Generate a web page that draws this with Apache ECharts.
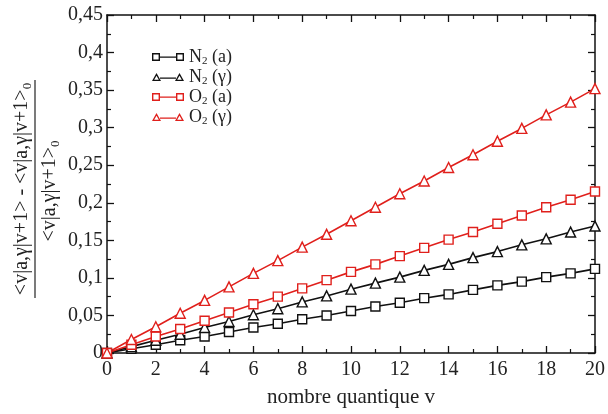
<!DOCTYPE html>
<html><head><meta charset="utf-8">
<script src="https://cdn.jsdelivr.net/npm/echarts@6/dist/echarts.min.js"></script>
<style>html,body{margin:0;padding:0;background:#fff}#c{width:608px;height:414px}</style>
</head><body><div id="c"></div>
<script>
const v = [0,1,2,3,4,5,6,7,8,9,10,11,12,13,14,15,16,17,18,19,20];
const n2a = [0,0.0056,0.011,0.017,0.022,0.028,0.034,0.039,0.045,0.050,0.056,0.062,0.067,0.073,0.078,0.084,0.090,0.095,0.101,0.106,0.112];
const n2g = [0,0.0085,0.017,0.025,0.034,0.042,0.051,0.059,0.068,0.076,0.085,0.093,0.101,0.110,0.118,0.127,0.135,0.144,0.152,0.161,0.169];
const o2a = [0,0.011,0.022,0.032,0.043,0.054,0.065,0.075,0.086,0.097,0.108,0.118,0.129,0.140,0.151,0.161,0.172,0.183,0.194,0.204,0.215];
const o2g = [0,0.018,0.035,0.053,0.070,0.088,0.106,0.123,0.141,0.158,0.176,0.194,0.212,0.229,0.247,0.264,0.282,0.299,0.317,0.334,0.352];
const seriesNames = ['N2 (a)','N2 (γ)','O2 (a)','O2 (γ)'];
const legendLabels = {'N2 (a)':'N{s|2} (a)','N2 (γ)':'N{s|2} (γ)','O2 (a)':'O{s|2} (a)','O2 (γ)':'O{s|2} (γ)'};

const FONT = 'Liberation Serif';
const BLACK = '#111';
const RED = '#e0201c';
const TXT = '#222';
// legend icons: two open markers joined by a line
const ICON_RECT = 'path://M0,0L8,0L8,8L0,8Z M1.4,1.4L1.4,6.6L6.6,6.6L6.6,1.4Z M8,3.4L24,3.4L24,4.7L8,4.7Z M24,0L32,0L32,8L24,8Z M25.4,1.4L25.4,6.6L30.6,6.6L30.6,1.4Z';
const ICON_TRI = 'path://M0,8L4.5,0L9,8Z M2.2,6.7L6.8,6.7L4.5,2.8Z M8,4.4L24,4.4L24,5.7L8,5.7Z M23,8L27.5,0L32,8Z M25.2,6.7L29.8,6.7L27.5,2.8Z';

const chart = echarts.init(document.getElementById('c'));
function mk(name, data, color, sym, size){
  return {name, type:'line', data: v.map((x,i)=>[x,data[i]]), symbol: sym, symbolSize: size,
    showAllSymbol:true, lineStyle:{color, width:1.6}, itemStyle:{color:'#fff', borderColor:color, borderWidth:1.4},
    emphasis:{disabled:true}};
}
const tickFmt = val => val === 0 ? '0' : String(+val.toFixed(3)).replace('.', ',');
const axisCommon = {
  axisLine:{show:true, onZero:false, lineStyle:{color:BLACK, width:1.5}},
  axisTick:{show:true, inside:true, length:7, lineStyle:{color:BLACK, width:1.3}},
  minorTick:{show:true, splitNumber:2, length:4, lineStyle:{color:BLACK, width:1.2}},
  splitLine:{show:false}
};
const legendColors = [BLACK, BLACK, RED, RED];
const legendIcons = [ICON_RECT, ICON_TRI, ICON_RECT, ICON_TRI];
chart.setOption({
  animation:false,
  grid:{left:107, right:6, top:15, bottom:61},
  xAxis:[
    Object.assign({type:'value', min:0, max:20, interval:2, position:'bottom',
      axisLabel:{fontFamily:FONT, fontSize:20, color:TXT, margin:7},
      name:'nombre quantique v', nameLocation:'middle', nameGap:34,
      nameTextStyle:{fontFamily:FONT, fontSize:21, color:TXT}}, axisCommon),
    Object.assign({type:'value', min:0, max:20, interval:2, position:'top', axisLabel:{show:false}}, axisCommon)
  ],
  yAxis:[
    Object.assign({type:'value', min:0, max:0.45, interval:0.05, position:'left',
      axisLabel:{fontFamily:FONT, fontSize:20, color:TXT, margin:4, formatter:tickFmt}}, axisCommon),
    Object.assign({type:'value', min:0, max:0.45, interval:0.05, position:'right', axisLabel:{show:false}}, axisCommon)
  ],
  legend:{orient:'vertical', left:147, top:42, itemGap:0, itemWidth:32, itemHeight:8,
    data: seriesNames.map((n,i)=>({name:n, icon:legendIcons[i], itemStyle:{color:legendColors[i], borderWidth:0}})),
    formatter: n => legendLabels[n],
    textStyle:{fontFamily:FONT, fontSize:18, lineHeight:20, color:TXT,
      rich:{s:{fontFamily:FONT, fontSize:11, lineHeight:20, color:TXT, padding:[9,0,0,0]}}}},
  series:[
    mk(seriesNames[0], n2a, BLACK, 'rect', 9),
    mk(seriesNames[1], n2g, BLACK, 'triangle', 10),
    mk(seriesNames[2], o2a, RED, 'rect', 9),
    mk(seriesNames[3], o2g, RED, 'triangle', 10)
  ],
  graphic:[
    {type:'text', x:22, y:189, rotation:Math.PI/2,
      style:{text:'<v|a,γ|v+1> - <v|a,γ|v+1>{s|0}', fontFamily:FONT, fontSize:20, fill:TXT, align:'center', verticalAlign:'middle',
        rich:{s:{fontFamily:FONT, fontSize:13, fill:TXT, padding:[12,0,0,0]}}}},
    {type:'line', shape:{x1:35, y1:80, x2:35, y2:298}, style:{stroke:TXT, lineWidth:1.2}},
    {type:'text', x:50, y:191, rotation:Math.PI/2,
      style:{text:'<v|a,γ|v+1>{s|0}', fontFamily:FONT, fontSize:20, fill:TXT, align:'center', verticalAlign:'middle',
        rich:{s:{fontFamily:FONT, fontSize:13, fill:TXT, padding:[12,0,0,0]}}}}
  ]
});
</script></body></html>
